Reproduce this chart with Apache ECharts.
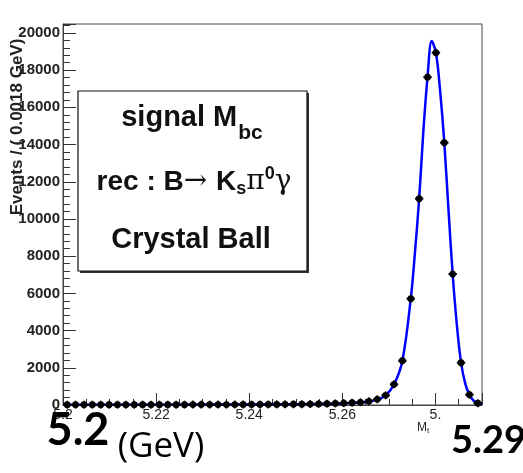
<!DOCTYPE html>
<html>
<head>
<meta charset="utf-8">
<script src="https://cdn.jsdelivr.net/npm/echarts@6/dist/echarts.min.js"></script>
<style>
  html, body { margin: 0; padding: 0; background: #fff; }
  #chart { width: 523px; height: 473px; }
</style>
</head>
<body>
<div id="chart"></div>
<script>
// bin centres (GeV), bin width 0.0018
const binCenters = [
  5.2009, 5.2027, 5.2045, 5.2063, 5.2081, 5.2099, 5.2117, 5.2135, 5.2153, 5.2171,
  5.2189, 5.2207, 5.2225, 5.2243, 5.2261, 5.2279, 5.2297, 5.2315, 5.2333, 5.2351,
  5.2369, 5.2387, 5.2405, 5.2423, 5.2441, 5.2459, 5.2477, 5.2495, 5.2513, 5.2531,
  5.2549, 5.2567, 5.2585, 5.2603, 5.2621, 5.2639, 5.2657, 5.2675, 5.2693, 5.2711,
  5.2729, 5.2747, 5.2765, 5.2783, 5.2801, 5.2819, 5.2837, 5.2855, 5.2873, 5.2891
];
// events per bin
const binCounts = [
  15, 15, 15, 16, 16, 16, 17, 17, 17, 18,
  18, 19, 19, 20, 20, 21, 22, 22, 23, 24,
  25, 26, 28, 29, 31, 33, 36, 39, 43, 48,
  60, 70, 85, 100, 120, 145, 200, 306, 520, 1110,
  2380, 5715, 11090, 17620, 18940, 14100, 7040, 2275, 555, 100
];
// Crystal Ball fit curve, sampled from the plot
const fitX = [
  5.2, 5.22, 5.24, 5.25, 5.255, 5.26, 5.263, 5.2655, 5.2675, 5.2693,
  5.2711, 5.2729, 5.2747, 5.2756, 5.2765, 5.2774, 5.2783, 5.2792, 5.2801, 5.281,
  5.2819, 5.2828, 5.2837, 5.2846, 5.2855, 5.2864, 5.2873, 5.2882, 5.2891, 5.29
];
const fitY = [
  15, 20, 32, 45, 60, 85, 120, 180, 290, 520,
  1100, 2380, 5715, 8200, 11090, 14700, 17620, 19560, 18950, 16900,
  14100, 10500, 7040, 4300, 2275, 1150, 555, 230, 80, 50
];
const binWidth = 0.0018;

const chart = echarts.init(document.getElementById('chart'));

const tickFont = '"Liberation Sans Narrow", "Liberation Sans", Arial, sans-serif';

const option = {
  animation: false,
  grid: {
    left: 63, right: 41, top: 24, bottom: 68,
    show: true, borderColor: '#444', borderWidth: 1
  },
  xAxis: {
    type: 'value',
    min: 5.2, max: 5.29, interval: 0.02,
    axisLine: { lineStyle: { color: '#444', width: 1 } },
    axisTick: { inside: true, length: 12, lineStyle: { color: '#333' } },
    minorTick: { show: true, splitNumber: 4, length: 6, lineStyle: { color: '#333' } },
    splitLine: { show: false },
    axisLabel: {
      color: '#222', fontFamily: tickFont, fontSize: 14, margin: 3,
      showMaxLabel: false,
      formatter: v => {
        if (Math.abs(v - 5.2) < 1e-6) return '5.2';
        if (Math.abs(v - 5.28) < 1e-6) return '5.';
        return v.toFixed(2);
      }
    }
  },
  yAxis: {
    type: 'value',
    min: 0, max: 20480, interval: 2000,
    axisLine: { show: true, lineStyle: { color: '#444', width: 1 } },
    axisTick: { inside: true, length: 13, lineStyle: { color: '#333' } },
    minorTick: { show: true, splitNumber: 5, length: 7, lineStyle: { color: '#333' } },
    splitLine: { show: false },
    axisLabel: {
      color: '#222', fontFamily: tickFont, fontWeight: 'bold', fontSize: 15, margin: 3,
      showMaxLabel: false,
      formatter: v => String(Math.round(v))
    }
  },
  series: [
    {
      type: 'line',
      data: fitX.map((x, i) => [x, fitY[i]]),
      smooth: 0.35,
      showSymbol: false,
      lineStyle: { color: '#0000ff', width: 2.5 },
      z: 3
    },
    {
      type: 'custom',
      data: binCenters.map((x, i) => [x, binCounts[i]]),
      renderItem: (params, api) => {
        const x = api.value(0), y = api.value(1);
        const p = api.coord([x, y]);
        const l = api.coord([x - binWidth / 2, y]);
        const r = api.coord([x + binWidth / 2, y]);
        return {
          type: 'group',
          children: [
            { type: 'line', shape: { x1: l[0], y1: p[1], x2: r[0], y2: p[1] },
              style: { stroke: '#000', lineWidth: 2 } },
            { type: 'line', shape: { x1: p[0], y1: p[1] - 4, x2: p[0], y2: p[1] + 4 },
              style: { stroke: '#000', lineWidth: 1.5 } },
            { type: 'circle', shape: { cx: p[0], cy: p[1], r: 3.4 },
              style: { fill: '#000' } }
          ]
        };
      },
      z: 4
    }
  ],
  graphic: [
    // y axis title
    {
      type: 'text', x: 17, y: 127, rotation: Math.PI / 2, z: 10,
      style: {
        text: 'Events / ( 0.0018 GeV)', fill: '#222',
        font: 'bold 17px ' + tickFont,
        align: 'center', verticalAlign: 'middle'
      }
    },
    // legend box shadow + box
    { type: 'rect', shape: { x: 80, y: 93, width: 229, height: 180 },
      style: { fill: '#333' }, z: 10 },
    { type: 'rect', shape: { x: 78, y: 91, width: 229, height: 180 },
      style: { fill: '#fff', stroke: '#111', lineWidth: 1.2 }, z: 11 },
    {
      type: 'text', x: 192, y: 118, z: 12,
      style: {
        text: '{a|signal M}{s|bc}',
        align: 'center', verticalAlign: 'middle',
        rich: {
          a: { font: 'bold 29px "Liberation Sans", Arial', fill: '#111' },
          s: { font: 'bold 21px "Liberation Sans", Arial', fill: '#111', padding: [30, 0, 0, 1] }
        }
      }
    },
    {
      type: 'text', x: 194, y: 182, z: 12,
      style: {
        text: '{a|rec : B}{g|\u2192 }{a|K}{s|s}{g|\u03c0}{u|0}{g|\u03b3}',
        align: 'center', verticalAlign: 'middle',
        rich: {
          a: { font: 'bold 28px "Liberation Sans", Arial', fill: '#111' },
          g: { font: '28px "DejaVu Serif", serif', fill: '#111' },
          s: { font: 'bold 18px "Liberation Sans", Arial', fill: '#111', padding: [14, 0, 0, 0] },
          u: { font: 'bold 18px "Liberation Sans", Arial', fill: '#111', padding: [0, 0, 16, 0] }
        }
      }
    },
    {
      type: 'text', x: 191, y: 240, z: 12,
      style: {
        text: 'Crystal Ball', fill: '#111',
        font: 'bold 29px "Liberation Sans", Arial',
        align: 'center', verticalAlign: 'middle'
      }
    },
    // x axis title
    {
      type: 'text', x: 423, y: 428, z: 12,
      style: {
        text: '{m|M}{t|t}', align: 'center', verticalAlign: 'middle',
        rich: {
          m: { font: '12px ' + tickFont, fill: '#222' },
          t: { font: '8px ' + tickFont, fill: '#222', padding: [6, 0, 0, 0] }
        }
      }
    },
    // slide annotations
    {
      type: 'text', x: 78, y: 430, z: 20,
      style: {
        text: '5.2', fill: '#000',
        font: 'bold 45px Lato, "Open Sans", sans-serif',
        align: 'center', verticalAlign: 'middle'
      }
    },
    {
      type: 'text', x: 161, y: 447, z: 20,
      style: {
        text: '(GeV)', fill: '#000',
        font: '35px "Open Sans", Lato, sans-serif',
        align: 'center', verticalAlign: 'middle'
      }
    },
    {
      type: 'text', x: 451, y: 441, z: 20,
      style: {
        text: '5.29', fill: '#000',
        font: 'bold 38px Lato, "Open Sans", sans-serif',
        align: 'left', verticalAlign: 'middle'
      }
    }
  ]
};

chart.setOption(option);
</script>
</body>
</html>
